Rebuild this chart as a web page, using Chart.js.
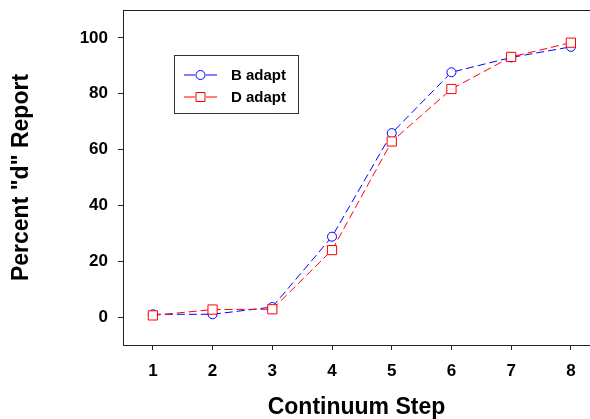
<!DOCTYPE html>
<html lang="en">

<head>
    <meta charset="UTF-8">
    <title>Percent "d" Report by Continuum Step</title>
    <script src="https://cdn.jsdelivr.net/npm/chart.js@4.4.0/dist/chart.umd.min.js"></script>
    <style>
        body { margin: 0; background: #fff; }
    </style>
</head>

<body>

    <canvas id="myChart" width="590" height="419"></canvas>
    <script>

        // continuum steps and the two adaptation conditions
        const steps = [1, 2, 3, 4, 5, 6, 7, 8];
        const bAdapt = [1.0, 1.0, 3.6, 28.8, 65.9, 87.7, 93.0, 96.8];
        const dAdapt = [0.6, 2.7, 2.8, 24.0, 62.9, 81.7, 93.2, 98.3];
        const yTicks = [0, 20, 40, 60, 80, 100];

        const fontFamily = '"Liberation Sans", Arial, sans-serif';

        function toPoints(values) {
            return steps.map((s, i) => ({ x: s, y: values[i] }));
        }

        // top border line and the boxed legend inside the plot
        const framePlugin = {
            id: 'frame',
            afterDraw(chart) {
                const ctx = chart.ctx;
                const area = chart.chartArea;
                ctx.save();
                ctx.strokeStyle = '#222';
                ctx.lineWidth = 1;
                ctx.beginPath();
                ctx.moveTo(area.left, area.top + 0.5);
                ctx.lineTo(area.right, area.top + 0.5);
                ctx.stroke();

                // legend box
                ctx.strokeStyle = '#333';
                ctx.strokeRect(174.5, 55.5, 124, 58);

                const rows = [75, 97];
                chart.data.datasets.forEach((ds, i) => {
                    const y = rows[i];
                    ctx.strokeStyle = ds.borderColor;
                    ctx.lineWidth = 1;
                    ctx.beginPath();
                    ctx.moveTo(184, y);
                    ctx.lineTo(195, y);
                    ctx.moveTo(206, y);
                    ctx.lineTo(217, y);
                    ctx.stroke();
                    ctx.fillStyle = '#fff';
                    ctx.beginPath();
                    if (ds.pointStyle === 'circle') {
                        ctx.arc(200.5, y, 4.5, 0, Math.PI * 2);
                    } else {
                        ctx.rect(196, y - 4.5, 9, 9);
                    }
                    ctx.fill();
                    ctx.stroke();

                    ctx.fillStyle = '#000';
                    ctx.font = 'bold 15px ' + fontFamily;
                    ctx.textAlign = 'left';
                    ctx.textBaseline = 'middle';
                    ctx.fillText(ds.label, 231, y + 1);
                });
                ctx.restore();
            }
        };

        const ctx = document.getElementById('myChart').getContext('2d');
        const myChart = new Chart(ctx, {
            type: 'line',
            data: {
                datasets: [{
                    label: 'B adapt',
                    data: toPoints(bAdapt),
                    borderColor: 'rgb(0, 0, 255)',
                    backgroundColor: '#fff',
                    borderWidth: 1,
                    borderDash: [8, 4],
                    pointStyle: 'circle',
                    pointRadius: 4.5,
                    pointBorderWidth: 1,
                    pointBackgroundColor: '#fff',
                    order: 1
                }, {
                    label: 'D adapt',
                    data: toPoints(dAdapt),
                    borderColor: 'rgb(255, 0, 0)',
                    backgroundColor: '#fff',
                    borderWidth: 1,
                    borderDash: [8, 4],
                    pointStyle: 'rect',
                    pointRadius: 6.5,
                    pointBorderWidth: 1,
                    pointBackgroundColor: '#fff',
                    order: 0
                }]
            },
            options: {
                responsive: false,
                animation: false,
                layout: {
                    autoPadding: false,
                    padding: { top: 10, right: 0, left: 0, bottom: 0 }
                },
                plugins: {
                    legend: { display: false },
                    tooltip: { enabled: false }
                },
                scales: {
                    x: {
                        type: 'linear',
                        min: 0.5,
                        max: 8.32,
                        afterBuildTicks: (scale) => {
                            scale.ticks = steps.map(v => ({ value: v }));
                        },
                        afterFit: (scale) => {
                            scale.height = 74;
                            scale.paddingLeft = 0;
                            scale.paddingRight = 0;
                        },
                        grid: {
                            drawOnChartArea: false,
                            drawTicks: true,
                            tickLength: 5,
                            color: '#222'
                        },
                        border: { display: true, color: '#222', width: 1 },
                        ticks: {
                            padding: 11,
                            color: '#000',
                            maxRotation: 0,
                            font: { family: fontFamily, size: 17, weight: 'bold' }
                        },
                        title: {
                            display: true,
                            text: 'Continuum Step',
                            color: '#000',
                            padding: { top: 0, bottom: 0 },
                            font: { family: fontFamily, size: 23, weight: 'bold', lineHeight: 1 }
                        }
                    },
                    y: {
                        min: -10,
                        max: 110,
                        afterBuildTicks: (scale) => {
                            scale.ticks = yTicks.map(v => ({ value: v }));
                        },
                        afterFit: (scale) => {
                            scale.width = 123;
                            scale.paddingTop = 0;
                            scale.paddingBottom = 0;
                        },
                        grid: {
                            drawOnChartArea: false,
                            drawTicks: true,
                            tickLength: 5,
                            color: '#222'
                        },
                        border: { display: true, color: '#222', width: 1 },
                        ticks: {
                            padding: 10,
                            color: '#000',
                            font: { family: fontFamily, size: 17, weight: 'bold' }
                        },
                        title: {
                            display: true,
                            text: 'Percent "d" Report',
                            color: '#000',
                            padding: { top: 10, bottom: 0 },
                            font: { family: fontFamily, size: 23, weight: 'bold', lineHeight: 1 }
                        }
                    }
                }
            },
            plugins: [framePlugin]
        });

    </script>

</body>

</html>
